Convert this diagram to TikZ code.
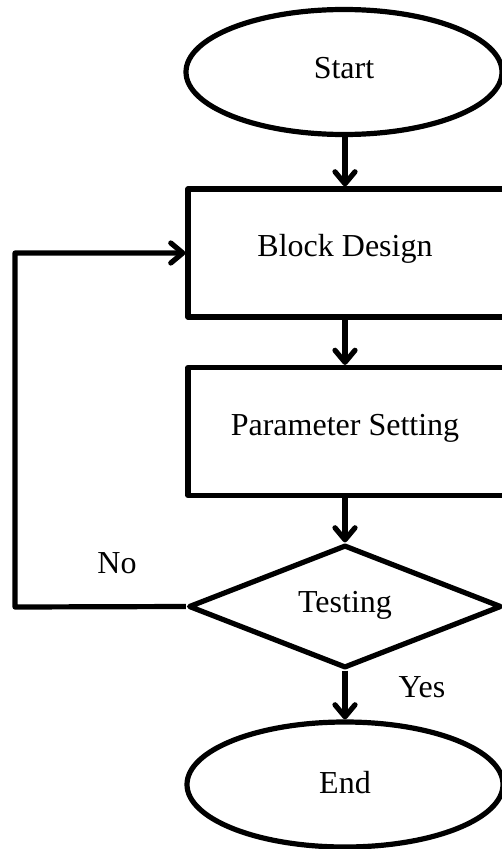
\documentclass[tikz,border=0pt]{standalone}
\usepackage{fontspec}
\setmainfont{Liberation Serif}
\usetikzlibrary{shapes.geometric,arrows.meta}
\begin{document}
\begin{tikzpicture}[x=0.75pt,y=-0.75pt,
  every node/.style={font=\fontsize{24}{28}\selectfont},
  line width=3.9pt, line join=round,
  terminal/.style={draw,ellipse,minimum width=237pt,minimum height=93.75pt,inner sep=0pt},
  process/.style={draw,rectangle,minimum width=241.5pt,minimum height=96pt,inner sep=0pt},
  decision/.style={draw,diamond,minimum width=234.75pt,minimum height=92.25pt,aspect=2.5,inner sep=0pt},
  flow/.style={-{Straight Barb[length=9pt,width=15pt,round]}}]
\useasboundingbox (0,0) rectangle (501,849);
% shapes
\node[terminal] (start) at (344,72) {};
\node at (344,68) {Start};
\node[process] (block) at (349,253) {};
\node at (345,249) {Block Design};
\node[process] (param) at (349,431.5) {};
\node at (345,428) {Parameter Setting};
\node[decision] (test) at (345,606.5) {};
\node at (345,605) {Testing};
\node[terminal] (end) at (345,784.5) {};
\node at (345,783) {End};
% branch labels
\node (no) at (117,563) {No};
\node (yes) at (422,687) {Yes};
% connectors
\draw[flow] (start.south -| 345,0) -- (block.north -| 345,0);
\draw[flow] (block.south -| 345,0) -- (param.north -| 345,0);
\draw[flow] (param.south -| 345,0) -- (test.north);
\draw[flow] (test.south) -- (end.north);
\coordinate (loop) at (15,607);
\draw[flow] (test.west) -- (loop) |- (block.west);
\end{tikzpicture}
\end{document}
